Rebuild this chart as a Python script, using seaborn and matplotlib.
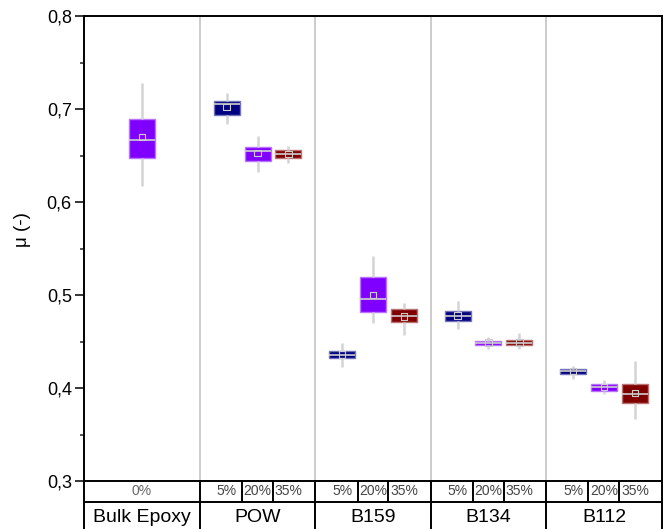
import numpy as np
import pandas as pd
import matplotlib
matplotlib.use("Agg")
import matplotlib.pyplot as plt
import matplotlib.transforms as mtransforms
from matplotlib.ticker import MultipleLocator, FuncFormatter
import seaborn as sns

# ---------------- data ----------------
group_names = ["Bulk Epoxy", "POW", "B159", "B134", "B112"]
box_group = [0, 1, 1, 1, 2, 2, 2, 3, 3, 3, 4, 4, 4]
box_conc = ["0%", "5%", "20%", "35%", "5%", "20%", "35%",
            "5%", "20%", "35%", "5%", "20%", "35%"]
whisker_low = [0.617, 0.684, 0.632, 0.642, 0.423, 0.470, 0.457,
               0.464, 0.442, 0.442, 0.410, 0.394, 0.367]
quart_1 = [0.648, 0.694, 0.644, 0.648, 0.432, 0.482, 0.471,
           0.472, 0.446, 0.446, 0.415, 0.397, 0.384]
median = [0.667, 0.706, 0.655, 0.652, 0.436, 0.496, 0.477,
          0.477, 0.449, 0.449, 0.418, 0.401, 0.394]
quart_3 = [0.690, 0.709, 0.659, 0.656, 0.440, 0.519, 0.485,
           0.483, 0.451, 0.452, 0.421, 0.404, 0.404]
whisker_high = [0.728, 0.718, 0.671, 0.660, 0.448, 0.542, 0.492,
                0.494, 0.455, 0.459, 0.424, 0.409, 0.429]
mean = [0.670, 0.702, 0.653, 0.652, 0.436, 0.500, 0.477,
        0.478, 0.449, 0.449, 0.418, 0.401, 0.395]

# ---------------- style / layout ----------------
palette = {"0%": "#8000ff", "5%": "#000080", "20%": "#8000ff", "35%": "#800000"}
conc_offset = {"0%": 0.0, "5%": -0.268, "20%": 0.0, "35%": 0.268}

positions = [g + conc_offset[c] for g, c in zip(box_group, box_conc)]

rows = []
for i in range(len(box_group)):
    for v in (whisker_low[i], quart_1[i], median[i], quart_3[i], whisker_high[i]):
        rows.append({"pos": positions[i], "conc": box_conc[i], "mu": v})
df = pd.DataFrame(rows)

sns.set_theme(style="ticks")
plt.rcParams["font.family"] = ["Liberation Sans", "DejaVu Sans"]

fig = plt.figure(figsize=(6.65, 5.29), dpi=100)
fig.patch.set_facecolor("white")
ax = fig.add_axes([84.3 / 665, 48 / 529, (661.7 - 84.3) / 665, (481 - 16.3) / 529])
ax.set_facecolor("white")

for gx in [0.5, 1.5, 2.5, 3.5]:
    ax.axvline(gx, color="#c8c8c8", lw=1.3, zorder=0)

sns.boxplot(data=df, x="pos", y="mu", hue="conc", palette=palette,
            native_scale=True, dodge=False, width=0.84, whis=(0, 100),
            saturation=1, linecolor="#d0d0d0", linewidth=1.0,
            showcaps=False, legend=False,
            medianprops=dict(color="#cfcfcf", linewidth=1.2),
            whiskerprops=dict(color="#d4d4d4", linewidth=1.8),
            ax=ax)

for p in ax.patches:
    fc = np.array(p.get_facecolor())
    ec = fc.copy()
    ec[:3] = fc[:3] + (1 - fc[:3]) * 0.45
    p.set_edgecolor(ec)
    p.set_linewidth(1.0)

sns.scatterplot(x=positions, y=mean, marker="s", s=20, color="none",
                edgecolor="#cccccc", linewidth=0.8, zorder=6, ax=ax, legend=False)
ax.collections[-1].set_facecolor("none")

ax.set_xlim(-0.5, 4.5)
ax.set_ylim(0.3, 0.8)
ax.yaxis.set_major_locator(MultipleLocator(0.1))
ax.yaxis.set_minor_locator(MultipleLocator(0.05))
ax.yaxis.set_major_formatter(FuncFormatter(lambda v, p: f"{v:.1f}".replace(".", ",")))
ax.set_xticks([])
ax.set_xlabel("")
ax.tick_params(axis="y", which="major", direction="out", length=6.5, width=1.1,
               labelsize=13, pad=2.5, colors="black", left=True, right=False)
ax.tick_params(axis="y", which="minor", direction="out", length=3.0, width=1.1,
               left=True, right=False)
for s in ax.spines.values():
    s.set_color("black")
    s.set_linewidth(1.4)

ax.set_ylabel("μ (-)", fontsize=13.5, color="black")
ax.yaxis.set_label_coords(-0.092, 0.542)

# ---------------- bottom category table ----------------
trans = mtransforms.blended_transform_factory(ax.transData, ax.transAxes)
row1_bot = -20.7 / 464.7
fig_bot = -0.12
lk = dict(color="black", lw=1.4, clip_on=False, transform=trans, zorder=10)
ax.plot([-0.5, 4.5], [row1_bot, row1_bot], **lk)
for gx in [-0.5, 0.5, 1.5, 2.5, 3.5, 4.5]:
    ax.plot([gx, gx], [0, fig_bot], **lk)
for g in range(1, 5):
    for d in (-0.134, 0.134):
        ax.plot([g + d, g + d], [0, row1_bot], **lk)

for x, c in zip(positions, box_conc):
    ax.text(x, row1_bot / 2, c, transform=trans, ha="center", va="center",
            fontsize=10, color="#444444" if c != "0%" else "#666666")
for g, name in enumerate(group_names):
    ax.text(g, -36 / 464.7, name, transform=trans, ha="center", va="center",
            fontsize=14, color="black")

fig.savefig("out.png", dpi=100)
